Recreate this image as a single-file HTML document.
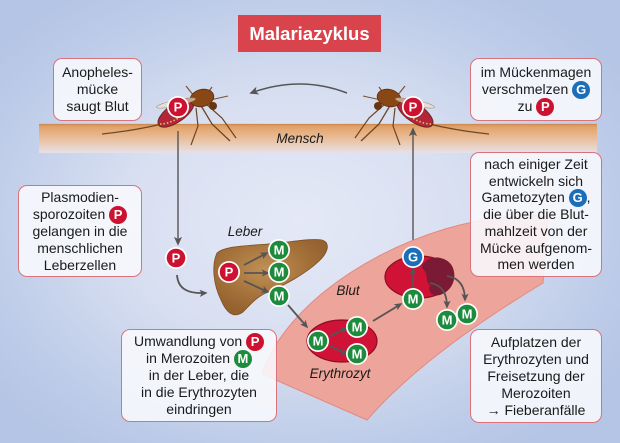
<!DOCTYPE html>
<html><head><meta charset="utf-8">
<style>
html,body{margin:0;padding:0;}
body{width:620px;height:443px;overflow:hidden;position:relative;
background:radial-gradient(ellipse 62% 62% at 48% 50%, #e4e9f6 0%, #d8dff1 45%, #bccbe8 85%, #b5c5e5 100%);
font-family:"Liberation Sans",Arial,sans-serif;}
svg{position:absolute;left:0;top:0;}
.box{position:absolute;box-sizing:border-box;border:1.5px solid #d9737b;border-radius:9px;
background:rgba(248,249,253,0.88);display:flex;align-items:center;justify-content:center;
text-align:center;font-size:14px;line-height:17px;color:#1a1a1a;white-space:nowrap;}
.box > div{width:100%;}
.b{display:inline-block;width:18px;height:18px;border-radius:50%;color:#fff;font-weight:bold;
font-size:13px;line-height:18px;text-align:center;vertical-align:baseline;margin:-3px 0;}
.p{background:#cc1230;}.g{background:#1b6fb9;}.m{background:#1d8b3c;}
.title{position:absolute;left:238px;top:15px;width:143px;height:37px;background:#d9434b;
color:#fff;font-weight:bold;font-size:18.5px;line-height:37px;text-align:center;}
</style></head><body>
<svg width="620" height="443" viewBox="0 0 620 443" xmlns="http://www.w3.org/2000/svg">
<defs>
<linearGradient id="skin" x1="0" y1="0" x2="0" y2="1">
<stop offset="0" stop-color="#d89358"/><stop offset="0.12" stop-color="#e3a46c"/>
<stop offset="0.55" stop-color="#eac2a2"/><stop offset="1" stop-color="#e6e1e8"/>
</linearGradient>
<radialGradient id="liv" cx="0.45" cy="0.4" r="0.6">
<stop offset="0" stop-color="#bf9155"/><stop offset="0.6" stop-color="#a5723b"/><stop offset="1" stop-color="#94612f"/>
</radialGradient>
<marker id="ah" viewBox="0 0 10 10" refX="8" refY="5" markerWidth="9" markerHeight="9" markerUnits="userSpaceOnUse" orient="auto">
<path d="M0,0.5 L10,5 L0,9.5 L2.5,5 z" fill="#555"/></marker>
<marker id="ah2" viewBox="0 0 10 10" refX="8" refY="5" markerWidth="8" markerHeight="8" markerUnits="userSpaceOnUse" orient="auto">
<path d="M0,0.5 L10,5 L0,9.5 L2.5,5 z" fill="#555"/></marker>
<g id="mq">
 <path d="M162,124 Q132,131 102,134" stroke="#6e4a28" stroke-width="1.3" fill="none"/>
 <path d="M200,104 L212,124 L230,141" stroke="#6e4520" stroke-width="1.3" fill="none"/>
 <path d="M205,103 L222,118 L236,138" stroke="#6e4520" stroke-width="1.2" fill="none"/>
 <path d="M196,108 L198,126 L191,145" stroke="#6e4520" stroke-width="1.2" fill="none"/>
 <path d="M194,96 L186,86" stroke="#7a5530" stroke-width="1.2" fill="none"/>
 <path d="M207,94 L212,87" stroke="#7a5530" stroke-width="1.2" fill="none"/>
 <path d="M210,100 L228,96" stroke="#7a5530" stroke-width="1.1" fill="none"/>
 <ellipse cx="176" cy="113" rx="21" ry="9" transform="rotate(-35 176 113)" fill="#b3263a" stroke="#6b2a18" stroke-width="1"/>
 <path d="M160,124 Q172,124 187,112" stroke="#e0c070" stroke-width="1.6" stroke-dasharray="1.5,2" fill="none"/>
 <ellipse cx="202" cy="98" rx="12" ry="8.5" transform="rotate(-15 202 98)" fill="#8a4716" stroke="#5a2e0e" stroke-width="0.8"/>
 <circle cx="213" cy="106" r="4" fill="#6a3410"/>
 <ellipse cx="176" cy="103" rx="20" ry="3" transform="rotate(-12 176 103)" fill="rgba(235,225,205,0.65)" stroke="#a08060" stroke-width="0.5"/>
</g>
</defs>

<!-- skin -->
<rect x="39" y="124" width="558" height="29" fill="url(#skin)"/>
<line x1="39" y1="124.5" x2="597" y2="124.5" stroke="#cf8c52" stroke-width="1.2"/>
<text x="300" y="143" font-size="13.5" font-style="italic" fill="#1a1a1a" text-anchor="middle">Mensch</text>

<!-- top curved arrow -->
<path d="M347,93 Q300,75 251,93" stroke="#555" stroke-width="1.6" fill="none" marker-end="url(#ah)"/>

<!-- mosquitoes -->
<use href="#mq"/>
<use href="#mq" transform="translate(591,0) scale(-1,1)"/>

<!-- vertical lines -->
<line x1="178" y1="131" x2="178" y2="244" stroke="#555" stroke-width="1.4" marker-end="url(#ah)"/>
<line x1="413" y1="244" x2="413" y2="129" stroke="#555" stroke-width="1.4" marker-end="url(#ah)"/>

<!-- blood vessel -->
<path d="M262,374 C280,318 350,258 445,229 C490,216 525,214 548,216 L543,283 C490,315 415,365 367,420 Z" fill="#eda49a" stroke="#e2897f" stroke-width="1"/>
<text x="348" y="295" font-size="13.5" font-style="italic" fill="#1a1a1a" text-anchor="middle">Blut</text>

<!-- liver -->
<path d="M217,253 C225,246 245,246 268,244 C292,242 312,238 322,240 C331,243 328,253 318,262 C305,274 285,285 268,292 C256,297 250,305 243,312 C233,319 226,312 221,300 C214,286 211,266 217,253 Z" fill="url(#liv)" stroke="#7d5024" stroke-width="0.8"/>
<text x="245" y="236" font-size="13.5" font-style="italic" fill="#1a1a1a" text-anchor="middle">Leber</text>

<!-- P to liver curved arrow -->
<path d="M177,275 C178,289 188,294 206,293" stroke="#555" stroke-width="1.8" fill="none" marker-end="url(#ah2)"/>
<!-- liver arrows -->
<line x1="244" y1="265" x2="267" y2="253" stroke="#555" stroke-width="1.8" marker-end="url(#ah2)"/>
<line x1="244" y1="273" x2="268" y2="273" stroke="#555" stroke-width="1.8" marker-end="url(#ah2)"/>
<line x1="244" y1="281" x2="268" y2="292" stroke="#555" stroke-width="1.8" marker-end="url(#ah2)"/>
<line x1="288" y1="305" x2="307" y2="327" stroke="#555" stroke-width="1.8" marker-end="url(#ah2)"/>

<!-- erythrocyte 1 -->
<ellipse cx="342" cy="341" rx="35" ry="21" fill="#cf1236" stroke="#8e0d22" stroke-width="1.2"/>
<line x1="330" y1="336" x2="347" y2="328" stroke="#555" stroke-width="1.8" marker-end="url(#ah2)"/>
<line x1="330" y1="346" x2="347" y2="354" stroke="#555" stroke-width="1.8" marker-end="url(#ah2)"/>
<text x="340" y="378" font-size="13.5" font-style="italic" fill="#1a1a1a" text-anchor="middle">Erythrozyt</text>
<line x1="373" y1="321" x2="401" y2="304" stroke="#555" stroke-width="1.8" marker-end="url(#ah2)"/>

<!-- erythrocyte 2 -->
<ellipse cx="419" cy="277" rx="34" ry="21" fill="#cf1236" stroke="#8e0d22" stroke-width="1.2"/>
<path d="M425,262 C432,254 449,257 453,268 C457,279 452,291 440,295 C432,297 427,291 430,285 C425,281 428,274 424,270 C421,267 422,264 425,262 Z" fill="#7a1a35"/>
<line x1="413" y1="288" x2="413" y2="268" stroke="#555" stroke-width="1.8" marker-end="url(#ah2)"/>
<path d="M430,283 C442,285 447,293 447,307" stroke="#555" stroke-width="1.8" fill="none" marker-end="url(#ah2)"/>
<path d="M447,276 C460,278 465,287 465,300" stroke="#555" stroke-width="1.8" fill="none" marker-end="url(#ah2)"/>

<!-- badges -->
<g font-family="Liberation Sans,Arial,sans-serif" font-weight="bold" font-size="13" text-anchor="middle" fill="#fff">
 <g transform="translate(178,107)"><circle r="11" fill="#fff"/><circle r="9.3" fill="#cc1230"/><text y="4.7">P</text></g>
 <g transform="translate(413,107)"><circle r="11" fill="#fff"/><circle r="9.3" fill="#cc1230"/><text y="4.7">P</text></g>
 <g transform="translate(176,258)"><circle r="11" fill="#fff"/><circle r="9.3" fill="#cc1230"/><text y="4.7">P</text></g>
 <g transform="translate(229,272)"><circle r="11" fill="#fff"/><circle r="9.3" fill="#cc1230"/><text y="4.7">P</text></g>
 <g transform="translate(279,250)"><circle r="11" fill="#fff"/><circle r="9.3" fill="#1d8b3c"/><text y="4.7">M</text></g>
 <g transform="translate(279,272)"><circle r="11" fill="#fff"/><circle r="9.3" fill="#1d8b3c"/><text y="4.7">M</text></g>
 <g transform="translate(279,296)"><circle r="11" fill="#fff"/><circle r="9.3" fill="#1d8b3c"/><text y="4.7">M</text></g>
 <g transform="translate(318,341)"><circle r="11" fill="#fff"/><circle r="9.3" fill="#1d8b3c"/><text y="4.7">M</text></g>
 <g transform="translate(357,327)"><circle r="11" fill="#fff"/><circle r="9.3" fill="#1d8b3c"/><text y="4.7">M</text></g>
 <g transform="translate(357,354)"><circle r="11" fill="#fff"/><circle r="9.3" fill="#1d8b3c"/><text y="4.7">M</text></g>
 <g transform="translate(413,299)"><circle r="11" fill="#fff"/><circle r="9.3" fill="#1d8b3c"/><text y="4.7">M</text></g>
 <g transform="translate(447,320)"><circle r="11" fill="#fff"/><circle r="9.3" fill="#1d8b3c"/><text y="4.7">M</text></g>
 <g transform="translate(467,314)"><circle r="11" fill="#fff"/><circle r="9.3" fill="#1d8b3c"/><text y="4.7">M</text></g>
 <g transform="translate(413,257)"><circle r="11" fill="#fff"/><circle r="9.3" fill="#1b6fb9"/><text y="4.7">G</text></g>
</g>
</svg>

<div class="title">Malariazyklus</div>

<div class="box" style="left:53px;top:58px;width:89px;height:63px;"><div>Anopheles-<br>mücke<br>saugt Blut</div></div>

<div class="box" style="left:470px;top:58px;width:132px;height:63px;"><div>im Mückenmagen<br>verschmelzen <span class="b g">G</span><br>zu <span class="b p">P</span></div></div>

<div class="box" style="left:18px;top:185px;width:124px;height:92px;"><div>Plasmodien-<br>sporozoiten <span class="b p">P</span><br>gelangen in die<br>menschlichen<br>Leberzellen</div></div>

<div class="box" style="left:470px;top:152px;width:132px;height:125px;line-height:16.8px;"><div>nach einiger Zeit<br>entwickeln sich<br>Gametozyten <span class="b g">G</span>,<br>die über die Blut-<br>mahlzeit von der<br>Mücke aufgenom-<br>men werden</div></div>

<div class="box" style="left:121px;top:329px;width:156px;height:93px;"><div>Umwandlung von <span class="b p">P</span><br>in Merozoiten <span class="b m">M</span><br>in der Leber, die<br>in die Erythrozyten<br>eindringen</div></div>

<div class="box" style="left:470px;top:329px;width:132px;height:94px;"><div>Aufplatzen der<br>Erythrozyten und<br>Freisetzung der<br>Merozoiten<br>→ Fieberanfälle</div></div>
</body></html>
